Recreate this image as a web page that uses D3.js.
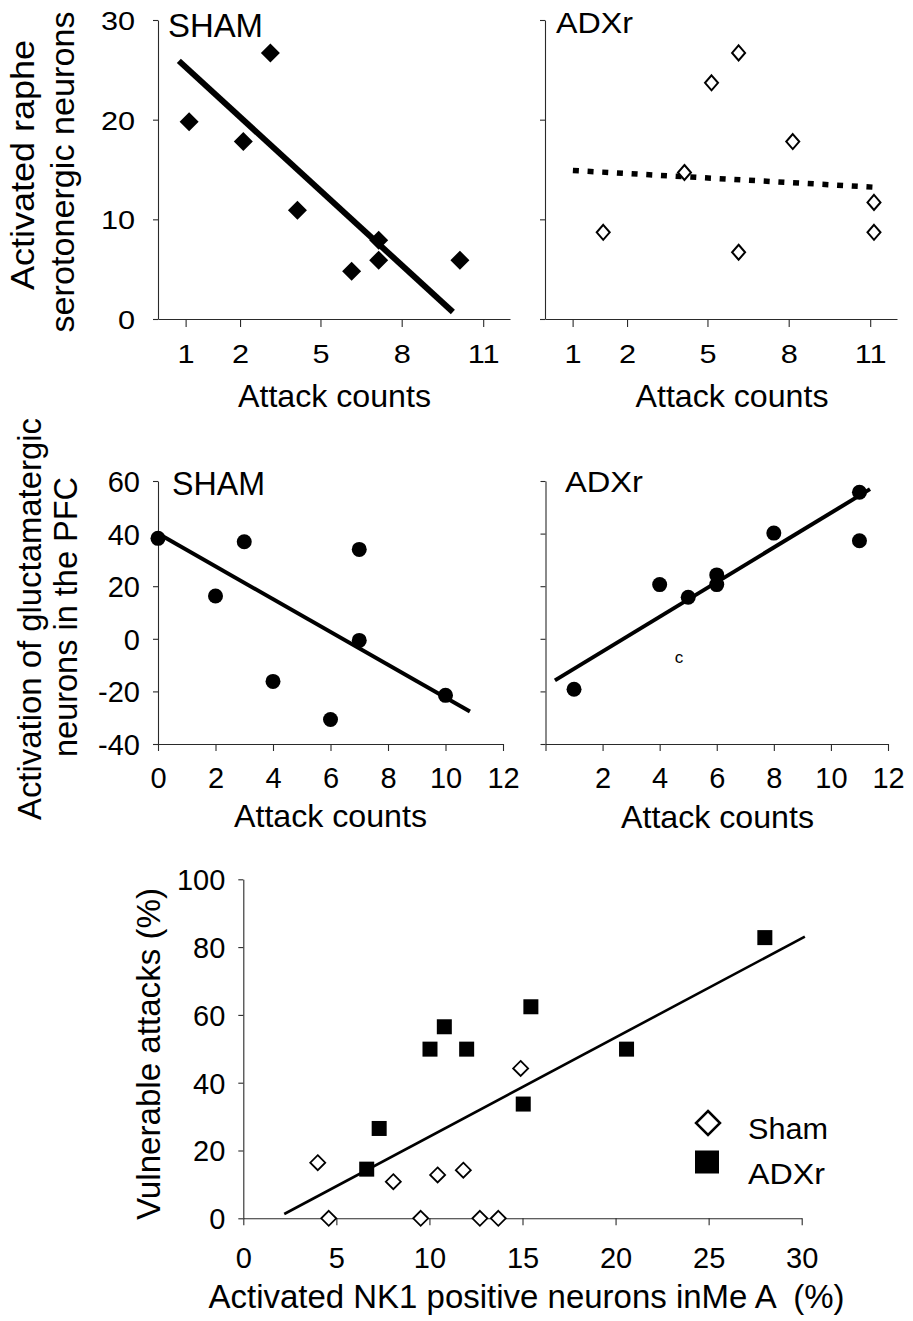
<!DOCTYPE html>
<html><head><meta charset="utf-8">
<script src="https://cdn.jsdelivr.net/npm/d3@7"></script>
<style>
html,body{margin:0;padding:0;background:#fff;}
svg text{font-family:"Liberation Sans", Arial, Helvetica, sans-serif; fill:#000; white-space:pre;}
</style></head><body>
<svg id="chart" width="913" height="1321"></svg>
<script>
// ---------------- DATA ----------------
// Top row: activated raphe serotonergic neurons vs attack counts
const attackTickPos = [-0.13, 1.88, 4.85, 7.85, 10.86];
const attackTickLabels = ["1", "2", "5", "8", "11"];
const rapheYTicks = [0, 10, 20, 30];

const shamRapheX = [0, 2, 3, 4, 6, 7, 7, 10];
const shamRapheY = [19.8, 17.8, 26.7, 10.9, 4.8, 7.9, 5.9, 5.9];
const shamRapheFitX = [-0.38, 9.74];
const shamRapheFitY = [25.9, 0.7];

const adxRapheX = [1, 4, 5, 6, 6, 8, 11, 11];
const adxRapheY = [8.7, 14.7, 23.7, 26.7, 6.7, 17.8, 11.7, 8.7];
const adxRapheFitX = [-0.12, 11.15];
const adxRapheFitY = [14.9, 13.2];

// Middle row: activation of glutamatergic neurons in PFC vs attack counts
const pfcXTicks = [0, 2, 4, 6, 8, 10, 12];
const pfcYTicks = [-40, -20, 0, 20, 40, 60];
const shamPfcX = [0, 2, 3, 4, 6, 7, 7, 10];
const shamPfcY = [38.2, 16.3, 36.9, -16.2, -30.7, 34.0, -0.6, -21.5];
const shamPfcFitX = [0, 10.85];
const shamPfcFitY = [40, -27.6];
const adxPfcX = [1, 4, 5, 6, 6, 8, 11, 11];
const adxPfcY = [-19.2, 20.6, 15.8, 24.3, 20.6, 40.2, 55.7, 37.3];
const adxPfcFitX = [0.33, 11.37];
const adxPfcFitY = [-15.8, 56.9];

// Bottom: vulnerable attacks vs activated NK1 positive neurons in MeA
const nk1XTicks = [0, 5, 10, 15, 20, 25, 30];
const vulnYTicks = [0, 20, 40, 60, 80, 100];
const shamNk1X = [4.0, 4.59, 8.06, 9.53, 10.44, 11.82, 12.71, 13.7, 14.9];
const shamVulnY = [16.4, 0, 10.8, 0, 12.8, 14.2, 0, 0, 44.2];
const adxNk1X = [6.63, 7.30, 10.03, 10.8, 12.0, 15.45, 15.04, 20.59, 28.02];
const adxVulnY = [14.5, 26.5, 49.9, 56.5, 49.9, 62.4, 33.7, 49.9, 82.8];
const nk1FitX = [2.2, 30.17];
const nk1FitY = [1.27, 83.1];

const legendLabels = ["Sham", "ADXr"];

// ---------------- DRAWING ----------------
const FONT = '"Liberation Sans", Arial, Helvetica, sans-serif';
const svg = d3.select("#chart");

function diamond(hw, hh) { return `M0,${-hh}L${hw},0L0,${hh}L${-hw},0Z`; }

function axes(g, x, y, o) {
  const y0 = y.range()[0], x0 = x.range()[0];
  const xa = d3.axisBottom(x).tickValues(o.xTicks)
    .tickFormat((d, i) => o.xLabels ? o.xLabels[i] : d)
    .tickSize(o.xTickSize).tickSizeOuter(0);
  const gx = g.append("g").attr("transform", `translate(0,${y0})`).call(xa);
  const ya = d3.axisLeft(y).tickValues(o.yTicks)
    .tickFormat(o.yLabels === false ? () => "" : d => d)
    .tickSize(o.yTickSize).tickSizeOuter(0);
  const gy = g.append("g").attr("transform", `translate(${x0},0)`).call(ya);
  [gx, gy].forEach(a => {
    a.selectAll(".domain,.tick line").attr("stroke", "#2a2a2a").attr("stroke-width", 1.1);
    a.selectAll(".tick text").attr("fill", "#000").attr("font-size", o.fs)
      .attr("font-family", FONT);
  });
  const sx = o.sx || 1;
  gx.selectAll(".tick text").attr("y", o.xLabelY).attr("dy", null)
    .attr("transform", sx !== 1 ? `scale(${sx},1)` : null);
  gy.selectAll(".tick text").attr("x", o.yLabelX / sx).attr("dy", "0.36em")
    .attr("transform", sx !== 1 ? `scale(${sx},1)` : null);
}

function text(str, x, y, size, opt = {}) {
  const t = svg.append("text")
    .attr("font-size", size).attr("font-family", FONT)
    .attr("text-anchor", opt.anchor || "start")
    .text(str);
  if (opt.rotate) {
    t.attr("transform", `translate(${x},${y}) rotate(-90)`);
  } else {
    t.attr("x", x).attr("y", y);
  }
  if (opt.len) t.attr("textLength", opt.len).attr("lengthAdjust", "spacingAndGlyphs");
  return t;
}

function fitLine(g, x, y, xs, ys, w, dash) {
  const pts = xs.map((v, i) => [x(v), y(ys[i])]);
  g.append("path").attr("d", d3.line()(pts)).attr("fill", "none")
    .attr("stroke", "#000").attr("stroke-width", w)
    .attr("stroke-dasharray", dash || null);
}

// Panel 1: SHAM raphe
{
  const g = svg.append("g");
  const x = d3.scaleLinear().domain([-1.15, 11.85]).range([158, 510]);
  const y = d3.scaleLinear().domain([0, 30]).range([319, 20]);
  axes(g, x, y, {xTicks: attackTickPos, xLabels: attackTickLabels, xTickSize: 8,
    yTicks: rapheYTicks, yTickSize: 5, fs: 26, sx: 1.18, xLabelY: 44, yLabelX: -23});
  fitLine(g, x, y, shamRapheFitX, shamRapheFitY, 6);
  g.selectAll(".pt").data(shamRapheX).enter().append("path")
    .attr("d", diamond(9.5, 9.5))
    .attr("transform", (d, i) => `translate(${x(d)},${y(shamRapheY[i])})`)
    .attr("fill", "#000");
}
// Panel 2: ADXr raphe
{
  const g = svg.append("g");
  const x = d3.scaleLinear().domain([-1.15, 11.85]).range([545, 897]);
  const y = d3.scaleLinear().domain([0, 30]).range([319, 20]);
  axes(g, x, y, {xTicks: attackTickPos, xLabels: attackTickLabels, xTickSize: 8,
    yTicks: rapheYTicks, yLabels: false, yTickSize: 5, fs: 26, sx: 1.18, xLabelY: 44, yLabelX: -23});
  fitLine(g, x, y, adxRapheFitX, adxRapheFitY, 5.5, "6 8.7");
  g.selectAll(".pt").data(adxRapheX).enter().append("path")
    .attr("d", diamond(6.5, 7.5))
    .attr("transform", (d, i) => `translate(${x(d)},${y(adxRapheY[i])})`)
    .attr("fill", "#fff").attr("stroke", "#000").attr("stroke-width", 2);
}
// Panel 3: SHAM PFC
{
  const g = svg.append("g");
  const x = d3.scaleLinear().domain([0, 12]).range([158, 503]);
  const y = d3.scaleLinear().domain([-40, 60]).range([744, 481]);
  axes(g, x, y, {xTicks: pfcXTicks, xTickSize: 7, yTicks: pfcYTicks, yTickSize: 5,
    fs: 29, xLabelY: 44, yLabelX: -18});
  fitLine(g, x, y, shamPfcFitX, shamPfcFitY, 4);
  g.selectAll(".pt").data(shamPfcX).enter().append("circle")
    .attr("cx", d => x(d)).attr("cy", (d, i) => y(shamPfcY[i])).attr("r", 7.5)
    .attr("fill", "#000");
}
// Panel 4: ADXr PFC
{
  const g = svg.append("g");
  const x = d3.scaleLinear().domain([0, 12]).range([545.5, 888]);
  const y = d3.scaleLinear().domain([-40, 60]).range([744, 481]);
  axes(g, x, y, {xTicks: pfcXTicks, xLabels: pfcXTicks.map(d => d === 0 ? "" : String(d)),
    xTickSize: 7, yTicks: pfcYTicks, yLabels: false, yTickSize: 5,
    fs: 29, xLabelY: 44, yLabelX: -18});
  fitLine(g, x, y, adxPfcFitX, adxPfcFitY, 4);
  g.selectAll(".pt").data(adxPfcX).enter().append("circle")
    .attr("cx", d => x(d)).attr("cy", (d, i) => y(adxPfcY[i])).attr("r", 7.5)
    .attr("fill", "#000");
}
// Panel 5: NK1 vs vulnerable attacks
{
  const g = svg.append("g");
  const x = d3.scaleLinear().domain([0, 30]).range([243.3, 801.7]);
  const y = d3.scaleLinear().domain([0, 100]).range([1218.3, 879.3]);
  axes(g, x, y, {xTicks: nk1XTicks, xTickSize: 7, yTicks: vulnYTicks, yTickSize: 5,
    fs: 29, xLabelY: 50, yLabelX: -18});
  fitLine(g, x, y, nk1FitX, nk1FitY, 2.6);
  g.selectAll(".sq").data(adxNk1X).enter().append("rect")
    .attr("x", d => x(d) - 7.5).attr("y", (d, i) => y(adxVulnY[i]) - 7.5)
    .attr("width", 15).attr("height", 15).attr("fill", "#000");
  g.selectAll(".dm").data(shamNk1X).enter().append("path")
    .attr("d", diamond(7.5, 7.5))
    .attr("transform", (d, i) => `translate(${x(d)},${y(shamVulnY[i])})`)
    .attr("fill", "#fff").attr("stroke", "#000").attr("stroke-width", 1.8);
  // legend
  g.append("path").attr("d", diamond(12, 12)).attr("transform", "translate(708,1123)")
    .attr("fill", "#fff").attr("stroke", "#000").attr("stroke-width", 2.5);
  g.append("rect").attr("x", 695).attr("y", 1150.5).attr("width", 24).attr("height", 23).attr("fill", "#000");
  text(legendLabels[0], 748, 1139, 30, {len: 80});
  text(legendLabels[1], 748, 1184, 30, {len: 77});
}

// Titles & labels
text("SHAM", 168, 37, 33, {len: 95});
text("ADXr", 556, 33, 29, {len: 77});
text("SHAM", 172, 495, 33, {len: 93});
text("ADXr", 565, 492, 29, {len: 78});
text("c", 679, 663, 17, {anchor: "middle"});

text("Attack counts", 334.5, 407, 32, {anchor: "middle", len: 193});
text("Attack counts", 732, 407, 32, {anchor: "middle", len: 193});
text("Attack counts", 330.5, 827, 32, {anchor: "middle", len: 193});
text("Attack counts", 717.5, 828, 32, {anchor: "middle", len: 193});
text("Activated NK1 positive neurons inMe A  (%)", 526.5, 1308, 33, {anchor: "middle", len: 636});

text("Activated raphe", 34, 165, 34, {anchor: "middle", rotate: true, len: 250});
text("serotonergic neurons", 74, 172, 34, {anchor: "middle", rotate: true, len: 321});
text("Activation of gluctamatergic", 41, 619, 33, {anchor: "middle", rotate: true, len: 402});
text("neurons in the PFC", 77, 617, 33, {anchor: "middle", rotate: true, len: 280});
text("Vulnerable attacks (%)", 160, 1054, 33, {anchor: "middle", rotate: true, len: 332});
</script>
</body></html>
